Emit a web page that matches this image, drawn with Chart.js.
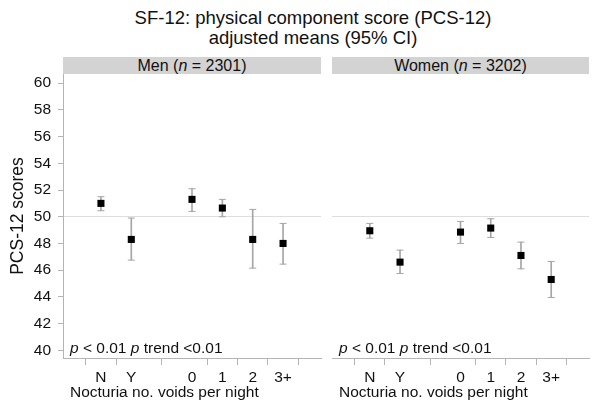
<!DOCTYPE html>
<html>
<head>
<meta charset="utf-8">
<script src="https://cdn.jsdelivr.net/npm/chart.js@4.4.0/dist/chart.umd.min.js"></script>
<style>
    body { margin: 0; background: #fff; font-family: 'Liberation Sans', Arial, sans-serif; }
    #wrap { position: relative; width: 600px; height: 410px; overflow: hidden; }
    .title { position: absolute; left: 13px; top: 8px; width: 600px; text-align: center; font-size: 18.5px; line-height: 20px; color: #111; }
    .strip { position: absolute; top: 57px; height: 17px; background: #d3d3d3; text-align: center; font-size: 16px; line-height: 17px; color: #111; }
    canvas { position: absolute; top: 0; }
</style>
</head>
<body>
<div id="wrap">
    <div class="title">SF-12: physical component score (PCS-12)<br>adjusted means (95% CI)</div>
    <div class="strip" style="left:63px;width:258px;">Men (<i>n</i> = 2301)</div>
    <div class="strip" style="left:332px;width:257px;">Women (<i>n</i> = 3202)</div>
    <canvas id="menChart" style="left:0;"></canvas>
    <canvas id="womenChart" style="left:326px;"></canvas>
</div>
<script>
// categories along the x axis (slot 2 is left empty between the two groups)
const categories = ['N', 'Y', '0', '1', '2', '3+'];
const xSlots = [0, 1, 3, 4, 5, 6];

// adjusted means and 95% CI
const menMean = [51.0, 48.3, 51.3, 50.65, 48.3, 48.0];
const menLow = [50.45, 46.75, 50.4, 50.0, 46.15, 46.45];
const menHigh = [51.5, 49.9, 52.1, 51.3, 50.55, 49.5];

const womenMean = [48.95, 46.6, 48.85, 49.15, 47.1, 45.3];
const womenLow = [48.4, 45.75, 48.0, 48.45, 46.1, 43.95];
const womenHigh = [49.5, 47.5, 49.65, 49.85, 48.1, 46.65];

const yTicks = [40, 42, 44, 46, 48, 50, 52, 54, 56, 58, 60];
const refLine = 50;

const pText = [{ t: 'p', i: true }, { t: ' < 0.01 ' }, { t: 'p', i: true }, { t: ' trend <0.01' }];
const xTitle = 'Nocturia no. voids per night';

const FONT = "'Liberation Sans', Arial, sans-serif";
const axisGrey = '#b4b4b4';
const ciGrey = '#a6a6a6';

const panelText = {
    id: 'panelText',
    afterDraw(chart) {
        const ctx = chart.ctx;
        const left = chart.chartArea.left + 7;
        ctx.save();
        ctx.fillStyle = '#111';
        ctx.textBaseline = 'alphabetic';
        ctx.textAlign = 'left';
        let x = left;
        pText.forEach(s => {
            ctx.font = (s.i ? 'italic ' : '') + '15.5px ' + FONT;
            ctx.fillText(s.t, x, 353);
            x += ctx.measureText(s.t).width;
        });
        ctx.font = '15.5px ' + FONT;
        ctx.fillText(xTitle, left, 397);
        ctx.restore();
    }
};

function makeChart(id, width, means, lows, highs, isLeft) {
    const canvas = document.getElementById(id);
    canvas.width = width;
    canvas.height = 410;
    canvas.style.width = width + 'px';
    canvas.style.height = '410px';

    return new Chart(canvas.getContext('2d'), {
        type: 'scatter',
        data: {
            datasets: [
                {
                    type: 'bar',
                    data: xSlots.map((s, i) => ({ x: s, y: [lows[i], highs[i]] })),
                    backgroundColor: ciGrey,
                    borderWidth: 0,
                    barThickness: 1,
                    order: 3
                },
                {
                    data: xSlots.map((s, i) => ({ x: s, y: lows[i] }))
                        .concat(xSlots.map((s, i) => ({ x: s, y: highs[i] }))),
                    pointStyle: 'line',
                    pointRadius: 3.5,
                    borderColor: ciGrey,
                    borderWidth: 1,
                    order: 2
                },
                {
                    data: xSlots.map((s, i) => ({ x: s, y: means[i] })),
                    pointStyle: 'rect',
                    pointRadius: 5,
                    backgroundColor: '#000',
                    borderWidth: 0,
                    order: 1
                }
            ]
        },
        options: {
            responsive: false,
            animation: false,
            events: [],
            layout: { padding: { top: 74, bottom: 0, left: isLeft ? 0 : 6, right: isLeft ? 5 : 11 } },
            plugins: { legend: { display: false }, tooltip: { enabled: false } },
            scales: {
                x: {
                    type: 'linear',
                    min: -1.25,
                    max: 7.25,
                    offset: false,
                    afterBuildTicks: s => { s.ticks = xSlots.map(v => ({ value: v })); },
                    afterFit: s => { s.height = 52; },
                    ticks: {
                        callback: (v, i) => categories[i],
                        font: { family: FONT, size: 15.5 },
                        color: '#111',
                        padding: 3,
                        maxRotation: 0,
                        autoSkip: false
                    },
                    grid: { drawOnChartArea: false, color: axisGrey, tickLength: 7 },
                    border: { color: axisGrey }
                },
                y: {
                    min: 39.42,
                    max: 60.69,
                    afterBuildTicks: s => { s.ticks = yTicks.map(v => ({ value: v })); },
                    afterFit: s => { s.width = isLeft ? 63 : 0; },
                    ticks: {
                        display: isLeft,
                        font: { family: FONT, size: 15.5 },
                        color: '#111',
                        padding: 7
                    },
                    grid: {
                        color: c => (c.tick && c.tick.value === refLine) ? '#dedede' : 'rgba(0,0,0,0)',
                        tickColor: axisGrey,
                        drawTicks: isLeft,
                        tickLength: 5
                    },
                    border: { display: isLeft, color: axisGrey },
                    title: {
                        display: isLeft,
                        text: 'PCS-12 scores',
                        font: { family: FONT, size: 17.5 },
                        color: '#111',
                        padding: { top: 8, bottom: 0 }
                    }
                }
            }
        },
        plugins: [panelText]
    });
}

makeChart('menChart', 326, menMean, menLow, menHigh, true);
makeChart('womenChart', 274, womenMean, womenLow, womenHigh, false);
</script>
</body>
</html>
